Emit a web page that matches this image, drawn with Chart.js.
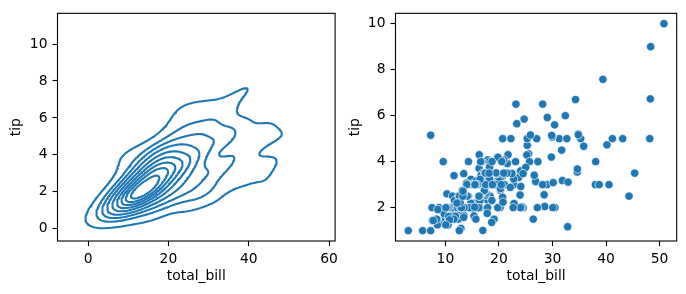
<!DOCTYPE html>
<html>
<head>
<meta charset="utf-8">
<script src="https://cdn.jsdelivr.net/npm/chart.js@4.4.1/dist/chart.umd.min.js"></script>
<style>
  html, body { margin: 0; padding: 0; background: #fff; }
  #wrap { position: relative; width: 686px; height: 294px; }
  canvas { position: absolute; top: 0; }
  #kde { left: 0; }
  #scatter { left: 343px; }
</style>
</head>
<body>
<div id="wrap">
  <canvas id="kde" width="343" height="294"></canvas>
  <canvas id="scatter" width="343" height="294"></canvas>
</div>
<script>
"use strict";

/* tips data: total_bill / tip */
var totalBill = [16.99, 10.34, 21.01, 23.68, 24.59, 25.29, 8.77, 26.88, 15.04, 14.78,
    10.27, 35.26, 15.42, 18.43, 14.83, 21.58, 10.33, 16.29, 16.97, 20.65,
    17.92, 20.29, 15.77, 39.42, 19.82, 17.81, 13.37, 12.69, 21.70, 19.65,
    9.55, 18.35, 15.06, 20.69, 17.78, 24.06, 16.31, 16.93, 18.69, 31.27,
    16.04, 17.46, 13.94, 9.68, 30.40, 18.29, 22.23, 32.40, 28.55, 18.04,
    12.54, 10.29, 34.81, 9.94, 25.56, 19.49, 38.01, 26.41, 11.24, 48.27,
    20.29, 13.81, 11.02, 18.29, 17.59, 20.08, 16.45, 3.07, 20.23, 15.01,
    12.02, 17.07, 26.86, 25.28, 14.73, 10.51, 17.92, 27.20, 22.76, 17.29,
    19.44, 16.66, 10.07, 32.68, 15.98, 34.83, 13.03, 18.28, 24.71, 21.16,
    28.97, 22.49, 5.75, 16.32, 22.75, 40.17, 27.28, 12.03, 21.01, 12.46,
    11.35, 15.38, 44.30, 22.42, 20.92, 15.36, 20.49, 25.21, 18.24, 14.31,
    14.00, 7.25, 38.07, 23.95, 25.71, 17.31, 29.93, 10.65, 12.43, 24.08,
    11.69, 13.42, 14.26, 15.95, 12.48, 29.80, 8.52, 14.52, 11.38, 22.82,
    19.08, 20.27, 11.17, 12.26, 18.26, 8.51, 10.33, 14.15, 16.00, 13.16,
    17.47, 34.30, 41.19, 27.05, 16.43, 8.35, 18.64, 11.87, 9.78, 7.51,
    14.07, 13.13, 17.26, 24.55, 19.77, 29.85, 48.17, 25.00, 13.39, 16.49,
    21.50, 12.66, 16.21, 13.81, 17.51, 24.52, 20.76, 31.71, 10.59, 10.63,
    50.81, 15.81, 7.25, 31.85, 16.82, 32.90, 17.89, 14.48, 9.60, 34.63,
    34.65, 23.33, 45.35, 23.17, 40.55, 20.69, 20.90, 30.46, 18.15, 23.10,
    15.69, 19.81, 28.44, 15.48, 16.58, 7.56, 10.34, 43.11, 13.00, 13.51,
    18.71, 12.74, 13.00, 16.40, 20.53, 16.47, 26.59, 38.73, 24.27, 12.76,
    30.06, 25.89, 48.33, 13.27, 28.17, 12.90, 28.15, 11.59, 7.74, 30.14,
    12.16, 13.42, 8.58, 15.98, 13.42, 16.27, 10.09, 20.45, 13.28, 22.12,
    24.01, 15.69, 11.61, 10.77, 15.53, 10.07, 12.60, 32.83, 35.83, 29.03,
    27.18, 22.67, 17.82, 18.78];

var tip = [1.01, 1.66, 3.50, 3.31, 3.61, 4.71, 2.00, 3.12, 1.96, 3.23,
    1.71, 5.00, 1.57, 3.00, 3.02, 3.92, 1.67, 3.71, 3.50, 3.35,
    4.08, 2.75, 2.23, 7.58, 3.18, 2.34, 2.00, 2.00, 4.30, 3.00,
    1.45, 2.50, 3.00, 2.45, 3.27, 3.60, 2.00, 3.07, 2.31, 5.00,
    2.24, 2.54, 3.06, 1.32, 5.60, 3.00, 5.00, 6.00, 2.05, 3.00,
    2.50, 2.60, 5.20, 1.56, 4.34, 3.51, 3.00, 1.50, 1.76, 6.73,
    3.21, 2.00, 1.98, 3.76, 2.64, 3.15, 2.47, 1.00, 2.01, 2.09,
    1.97, 3.00, 3.14, 5.00, 2.20, 1.25, 3.08, 4.00, 3.00, 2.71,
    3.00, 3.40, 1.83, 5.00, 2.03, 5.17, 2.00, 4.00, 5.85, 3.00,
    3.00, 3.50, 1.00, 4.30, 3.25, 4.73, 4.00, 1.50, 3.00, 1.50,
    2.50, 3.00, 2.50, 3.48, 4.08, 1.64, 4.06, 4.29, 3.76, 4.00,
    3.00, 1.00, 4.00, 2.55, 4.00, 3.50, 5.07, 1.50, 1.80, 2.92,
    2.31, 1.68, 2.50, 2.00, 2.52, 4.20, 1.48, 2.00, 2.00, 2.18,
    1.50, 2.83, 1.50, 2.00, 3.25, 1.25, 2.00, 2.00, 2.00, 2.75,
    3.50, 6.70, 5.00, 5.00, 2.30, 1.50, 1.36, 1.63, 1.73, 2.00,
    2.50, 2.00, 2.74, 2.00, 2.00, 5.14, 5.00, 3.75, 2.61, 2.00,
    3.50, 2.50, 2.00, 2.00, 3.00, 3.48, 2.24, 4.50, 1.61, 2.00,
    10.00, 3.16, 5.15, 3.18, 4.00, 3.11, 2.00, 2.00, 4.00, 3.55,
    3.68, 5.65, 3.50, 6.50, 3.00, 5.00, 3.50, 2.00, 3.50, 4.00,
    1.50, 4.19, 2.56, 2.02, 4.00, 1.44, 2.00, 5.00, 2.00, 2.00,
    4.00, 2.01, 2.00, 2.50, 4.00, 3.23, 3.41, 3.00, 2.03, 2.23,
    2.00, 5.16, 9.00, 2.50, 6.50, 1.10, 3.00, 1.50, 1.44, 3.09,
    2.20, 3.48, 1.92, 3.00, 1.58, 2.50, 2.00, 3.00, 2.72, 2.88,
    2.00, 3.00, 3.39, 1.47, 3.00, 1.25, 1.00, 1.17, 4.67, 5.92,
    2.00, 2.00, 1.75, 3.00];

var kdeXTicks = [0, 20, 40, 60];
var kdeYTicks = [0, 2, 4, 6, 8, 10];
var scatterXTicks = [10, 20, 30, 40, 50];
var scatterYTicks = [2, 4, 6, 8, 10];

var blue = '#1f77b4';
var fontPx = 13.89;

Chart.defaults.font.family = "'DejaVu Sans', sans-serif";
Chart.defaults.font.size = fontPx;
Chart.defaults.color = '#000';
Chart.defaults.animation = false;
Chart.defaults.events = [];


/* bivariate gaussian kde, scott bandwidth (same as seaborn kdeplot) */
function fitKde(xs, ys) {
    var n = xs.length, mx = 0, my = 0, sxx = 0, syy = 0, sxy = 0, i;
    for (i = 0; i < n; i++) { mx += xs[i]; my += ys[i]; }
    mx /= n; my /= n;
    for (i = 0; i < n; i++) {
        var dx = xs[i] - mx, dy = ys[i] - my;
        sxx += dx * dx; syy += dy * dy; sxy += dx * dy;
    }
    var f2 = Math.pow(Math.pow(n, -1 / 6), 2);
    var cxx = sxx / (n - 1) * f2, cyy = syy / (n - 1) * f2, cxy = sxy / (n - 1) * f2;
    var det = cxx * cyy - cxy * cxy;
    return { bwx: Math.sqrt(cxx), bwy: Math.sqrt(cyy), ixx: cyy / det, iyy: cxx / det, ixy: -cxy / det };
}

function supportGrid(vals, bw, cut, size) {
    var lo = Math.min.apply(null, vals) - bw * cut;
    var hi = Math.max.apply(null, vals) + bw * cut;
    var g = [];
    for (var i = 0; i < size; i++) g.push(lo + (hi - lo) * i / (size - 1));
    return g;
}

function densityGrid(xs, ys, k, gx, gy) {
    var nx = gx.length, ny = gy.length, dens = new Float64Array(nx * ny);
    for (var r = 0; r < ny; r++) {
        for (var c = 0; c < nx; c++) {
            var s = 0;
            for (var i = 0; i < xs.length; i++) {
                var dx = gx[c] - xs[i], dy = gy[r] - ys[i];
                s += Math.exp(-0.5 * (dx * dx * k.ixx + 2 * dx * dy * k.ixy + dy * dy * k.iyy));
            }
            dens[r * nx + c] = s;
        }
    }
    return dens;
}

/* iso-proportion levels */
function contourLevels(dens, props) {
    var sorted = Array.from(dens).sort(function (a, b) { return b - a; });
    var total = 0, cum = [], i;
    for (i = 0; i < sorted.length; i++) total += sorted[i];
    var run = 0;
    for (i = 0; i < sorted.length; i++) { run += sorted[i]; cum.push(run / total); }
    return props.map(function (p) {
        var target = 1 - p, lo = 0, hi = cum.length;
        while (lo < hi) { var mid = (lo + hi) >> 1; if (cum[mid] < target) lo = mid + 1; else hi = mid; }
        return sorted[Math.min(lo, sorted.length - 1)];
    });
}

/* marching squares, segments chained into polylines */
function traceLevel(dens, gx, gy, level) {
    var nx = gx.length, ny = gy.length;
    var links = new Map(), pts = new Map();

    function addPoint(key) {
        if (pts.has(key)) return;
        var idx = key >> 1, r = Math.floor(idx / nx), c = idx % nx;
        var v0 = dens[r * nx + c], v1, t;
        if (key & 1) {
            v1 = dens[(r + 1) * nx + c]; t = (level - v0) / (v1 - v0);
            pts.set(key, { x: gx[c], y: gy[r] + t * (gy[r + 1] - gy[r]) });
        } else {
            v1 = dens[r * nx + c + 1]; t = (level - v0) / (v1 - v0);
            pts.set(key, { x: gx[c] + t * (gx[c + 1] - gx[c]), y: gy[r] });
        }
    }
    function link(a, b) {
        addPoint(a); addPoint(b);
        if (!links.has(a)) links.set(a, []);
        if (!links.has(b)) links.set(b, []);
        links.get(a).push(b); links.get(b).push(a);
    }

    for (var r = 0; r < ny - 1; r++) {
        for (var c = 0; c < nx - 1; c++) {
            var va = dens[r * nx + c], vb = dens[r * nx + c + 1];
            var vc = dens[(r + 1) * nx + c + 1], vd = dens[(r + 1) * nx + c];
            var a = va > level, b = vb > level, cc = vc > level, d = vd > level;
            var bottom = (r * nx + c) * 2, right = (r * nx + c + 1) * 2 + 1;
            var top = ((r + 1) * nx + c) * 2, left = (r * nx + c) * 2 + 1;
            var cut = [];
            if (a !== b) cut.push(bottom);
            if (b !== cc) cut.push(right);
            if (cc !== d) cut.push(top);
            if (d !== a) cut.push(left);
            if (cut.length === 2) {
                link(cut[0], cut[1]);
            } else if (cut.length === 4) {
                var center = (va + vb + vc + vd) / 4 > level;
                if (center === a) { link(bottom, right); link(top, left); }
                else { link(left, bottom); link(right, top); }
            }
        }
    }

    var seen = new Set(), lines = [];
    function walk(start) {
        var line = [pts.get(start)], cur = start;
        seen.add(start);
        while (true) {
            var nb = links.get(cur), next = -1;
            for (var j = 0; j < nb.length; j++) if (!seen.has(nb[j])) { next = nb[j]; break; }
            if (next < 0) {
                if (nb.indexOf(start) >= 0 && line.length > 2) line.push(pts.get(start));
                break;
            }
            line.push(pts.get(next)); seen.add(next); cur = next;
        }
        return line;
    }
    links.forEach(function (nb, key) { if (nb.length === 1 && !seen.has(key)) lines.push(walk(key)); });
    links.forEach(function (nb, key) { if (!seen.has(key)) lines.push(walk(key)); });
    return lines;
}


var kde = fitKde(totalBill, tip);
var gridX = supportGrid(totalBill, kde.bwx, 3, 200);
var gridY = supportGrid(tip, kde.bwy, 3, 200);
var dens = densityGrid(totalBill, tip, kde, gridX, gridY);

var isoProps = [];
for (var i = 0; i < 10; i++) isoProps.push(0.05 + 0.95 * i / 9);
var levels = contourLevels(dens, isoProps);
var maxDens = Math.max.apply(null, Array.from(dens));

var contourSets = [];
levels.forEach(function (lv) {
    if (lv >= maxDens) return;
    traceLevel(dens, gridX, gridY, lv).forEach(function (line) {
        contourSets.push({
            data: line,
            showLine: true,
            pointRadius: 0,
            borderColor: blue,
            borderWidth: 2.08,
            borderJoinStyle: 'round',
            fill: false,
            tension: 0
        });
    });
});


/* axes frame, matplotlib style spines */
var framePlugin = {
    id: 'frame',
    afterDraw: function (chart) {
        var a = chart.chartArea, ctx = chart.ctx;
        ctx.save();
        ctx.strokeStyle = '#000';
        ctx.lineWidth = 1.1;
        ctx.strokeRect(a.left, a.top, a.right - a.left, a.bottom - a.top);
        ctx.restore();
    }
};

function makeAxis(min, max, ticks, label, isX, size, titlePad) {
    return {
        type: 'linear',
        min: min,
        max: max,
        afterBuildTicks: function (s) { s.ticks = ticks.map(function (v) { return { value: v }; }); },
        afterFit: function (s) { if (isX) s.height = size; else s.width = size; },
        ticks: { padding: 5, color: '#000', callback: function (v) { return String(v); } },
        grid: { drawOnChartArea: false, drawTicks: true, tickLength: 5, tickWidth: 1.1, tickColor: '#000' },
        border: { display: false },
        title: { display: true, text: label, color: '#000', padding: titlePad }
    };
}


/* left: kde contours */
new Chart(document.getElementById('kde'), {
    type: 'scatter',
    data: { datasets: contourSets },
    options: {
        responsive: false,
        devicePixelRatio: 1,
        parsing: false,
        layout: { padding: { left: 0, top: 10, right: 3.7, bottom: 0 } },
        plugins: { legend: { display: false }, tooltip: { enabled: false } },
        scales: {
            x: makeAxis(gridX[0], gridX[gridX.length - 1], kdeXTicks, 'total_bill', true, 53, { top: 0, bottom: 9.7 }),
            y: makeAxis(gridY[0], gridY[gridY.length - 1], kdeYTicks, 'tip', false, 57.5, { top: 8, bottom: 0 })
        }
    },
    plugins: [framePlugin]
});


/* right: scatter */
var points = totalBill.map(function (v, i) { return { x: v, y: tip[i] }; });
var xMin = Math.min.apply(null, totalBill), xMax = Math.max.apply(null, totalBill);
var yMin = Math.min.apply(null, tip), yMax = Math.max.apply(null, tip);
var xPad = (xMax - xMin) * 0.05, yPad = (yMax - yMin) * 0.05;

new Chart(document.getElementById('scatter'), {
    type: 'scatter',
    data: {
        datasets: [{
            data: points,
            pointRadius: 4.17,
            pointBackgroundColor: blue,
            pointBorderColor: '#fff',
            pointBorderWidth: 0.67
        }]
    },
    options: {
        responsive: false,
        devicePixelRatio: 1,
        layout: { padding: { left: 0, top: 10, right: 9.3, bottom: 0 } },
        plugins: { legend: { display: false }, tooltip: { enabled: false } },
        scales: {
            x: makeAxis(xMin - xPad, xMax + xPad, scatterXTicks, 'total_bill', true, 53, { top: 0, bottom: 9.7 }),
            y: makeAxis(yMin - yPad, yMax + yPad, scatterYTicks, 'tip', false, 52.5, { top: 4.5, bottom: 0 })
        }
    },
    plugins: [framePlugin]
});
</script>
</body>
</html>
